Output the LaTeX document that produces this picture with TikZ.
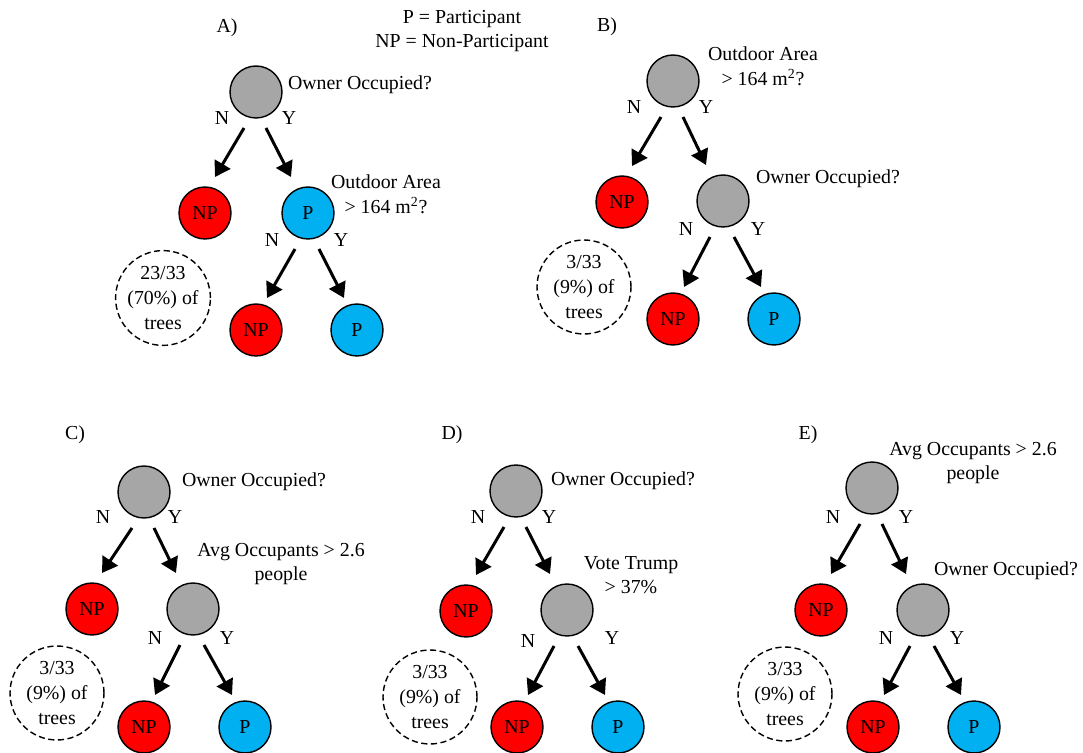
\documentclass[tikz,border=0pt]{standalone}
\usepackage{fontspec}
\setmainfont{Liberation Serif}
\usepackage{tikz}
\usetikzlibrary{arrows.meta,calc}
\definecolor{splitgray}{HTML}{A6A6A6}
\definecolor{npred}{HTML}{FF0000}
\definecolor{pblue}{HTML}{00B0F0}

\begin{document}
\begin{tikzpicture}[x=0.02cm, y=-0.02cm,
    font=\fontsize{11.3}{14}\selectfont,
    split/.style={circle, draw, line width=0.8pt, fill=splitgray, minimum size=1.04cm, inner sep=0pt},
    npleaf/.style={split, fill=npred},
    pleaf/.style={split, fill=pblue},
    share/.style={circle, draw, dash pattern=on 3.5pt off 2pt, line width=0.8pt, minimum size=1.88cm, inner sep=0pt, align=center},
    lbl/.style={align=center, inner sep=0pt},
    branch/.style={-{Triangle[length=0.3cm, width=0.36cm]}, line width=1.7pt}]
    \useasboundingbox (0, 0) rectangle (1083, 753);

    \node [lbl] (key) at (462, 31) {P = Participant\\NP = Non-Participant};

    % A)
    \node [lbl] (atag) at (227, 28) {A)};
    \node [split] (a0) at (256, 92) {};
    \node [lbl] (a0q) at (360, 85) {Owner Occupied?};
    \node [npleaf] (a1) at (205, 213) {NP};
    \node [pleaf] (a2) at (308, 213) {P};
    \node [lbl] (a2q) at (386, 194) {Outdoor Area\\> 164 m\textsuperscript{2}?};
    \node [npleaf] (a3) at (256, 330) {NP};
    \node [pleaf] (a4) at (357, 330) {P};
    \node [share] (a5) at (163, 298) {23/33\\(70\%) of\\trees};
    \node [lbl] at (222, 118) {N};
    \node [lbl] at (289, 118) {Y};
    \node [lbl] at (272, 240) {N};
    \node [lbl] at (341, 240) {Y};
    \draw [branch] ($(a0)+(-12, 36)$) -- ($(a1)+(10, -36)$);
    \draw [branch] ($(a0)+(10, 36)$) -- ($(a2)+(-17, -36)$);
    \draw [branch] ($(a2)+(-13, 36)$) -- ($(a3)+(11, -32)$);
    \draw [branch] ($(a2)+(11, 36)$) -- ($(a4)+(-13, -32)$);

    % B)
    \node [lbl] (btag) at (607, 27) {B)};
    \node [split] (b0) at (673, 81) {};
    \node [lbl] (b0q) at (763, 66) {Outdoor Area\\> 164 m\textsuperscript{2}?};
    \node [npleaf] (b1) at (622, 202) {NP};
    \node [split] (b2) at (723, 201) {};
    \node [lbl] (b2q) at (828, 179) {Owner Occupied?};
    \node [npleaf] (b3) at (673, 319) {NP};
    \node [pleaf] (b4) at (774, 319) {P};
    \node [share] (b5) at (584, 287) {3/33\\(9\%) of\\trees};
    \node [lbl] at (634, 107) {N};
    \node [lbl] at (706, 107) {Y};
    \node [lbl] at (686, 229) {N};
    \node [lbl] at (758, 229) {Y};
    \draw [branch] ($(b0)+(-12, 36)$) -- ($(b1)+(10, -36)$);
    \draw [branch] ($(b0)+(10, 36)$) -- ($(b2)+(-17, -36)$);
    \draw [branch] ($(b2)+(-13, 36)$) -- ($(b3)+(11, -32)$);
    \draw [branch] ($(b2)+(11, 36)$) -- ($(b4)+(-13, -32)$);

    % C)
    \node [lbl] (ctag) at (75, 435) {C)};
    \node [split] (c0) at (144, 492) {};
    \node [lbl] (c0q) at (254, 482) {Owner Occupied?};
    \node [npleaf] (c1) at (92, 609) {NP};
    \node [split] (c2) at (193, 609) {};
    \node [lbl] (c2q) at (281, 564) {Avg Occupants > 2.6\\people};
    \node [npleaf] (c3) at (144, 727) {NP};
    \node [pleaf] (c4) at (245, 727) {P};
    \node [share] (c5) at (57, 693) {3/33\\(9\%) of\\trees};
    \node [lbl] at (103, 517) {N};
    \node [lbl] at (175, 517) {Y};
    \node [lbl] at (155, 638) {N};
    \node [lbl] at (227, 638) {Y};
    \draw [branch] ($(c0)+(-12, 36)$) -- ($(c1)+(10, -36)$);
    \draw [branch] ($(c0)+(10, 36)$) -- ($(c2)+(-17, -36)$);
    \draw [branch] ($(c2)+(-13, 36)$) -- ($(c3)+(11, -32)$);
    \draw [branch] ($(c2)+(11, 36)$) -- ($(c4)+(-13, -32)$);

    % D)
    \node [lbl] (dtag) at (452, 435) {D)};
    \node [split] (d0) at (516, 491) {};
    \node [lbl] (d0q) at (623, 481) {Owner Occupied?};
    \node [npleaf] (d1) at (466, 611) {NP};
    \node [split] (d2) at (567, 610) {};
    \node [lbl] (d2q) at (631, 575) {Vote Trump\\> 37\%};
    \node [npleaf] (d3) at (517, 727) {NP};
    \node [pleaf] (d4) at (618, 727) {P};
    \node [share] (d5) at (430, 697) {3/33\\(9\%) of\\trees};
    \node [lbl] at (478, 517) {N};
    \node [lbl] at (549, 517) {Y};
    \node [lbl] at (528, 641) {N};
    \node [lbl] at (612, 638) {Y};
    \draw [branch] ($(d0)+(-12, 36)$) -- ($(d1)+(10, -36)$);
    \draw [branch] ($(d0)+(10, 36)$) -- ($(d2)+(-17, -36)$);
    \draw [branch] ($(d2)+(-13, 36)$) -- ($(d3)+(11, -32)$);
    \draw [branch] ($(d2)+(11, 36)$) -- ($(d4)+(-13, -32)$);

    % E)
    \node [lbl] (etag) at (808, 435) {E)};
    \node [split] (e0) at (872, 488) {};
    \node [lbl] (e0q) at (973, 463) {Avg Occupants > 2.6\\people};
    \node [npleaf] (e1) at (821, 610) {NP};
    \node [split] (e2) at (923, 610) {};
    \node [lbl] (e2q) at (1006, 571) {Owner Occupied?};
    \node [npleaf] (e3) at (873, 727) {NP};
    \node [pleaf] (e4) at (974, 727) {P};
    \node [share] (e5) at (785, 694) {3/33\\(9\%) of\\trees};
    \node [lbl] at (833, 517) {N};
    \node [lbl] at (906, 517) {Y};
    \node [lbl] at (886, 638) {N};
    \node [lbl] at (957, 638) {Y};
    \draw [branch] ($(e0)+(-12, 36)$) -- ($(e1)+(10, -36)$);
    \draw [branch] ($(e0)+(10, 36)$) -- ($(e2)+(-17, -36)$);
    \draw [branch] ($(e2)+(-13, 36)$) -- ($(e3)+(11, -32)$);
    \draw [branch] ($(e2)+(11, 36)$) -- ($(e4)+(-13, -32)$);
  \end{tikzpicture}
\end{document}
